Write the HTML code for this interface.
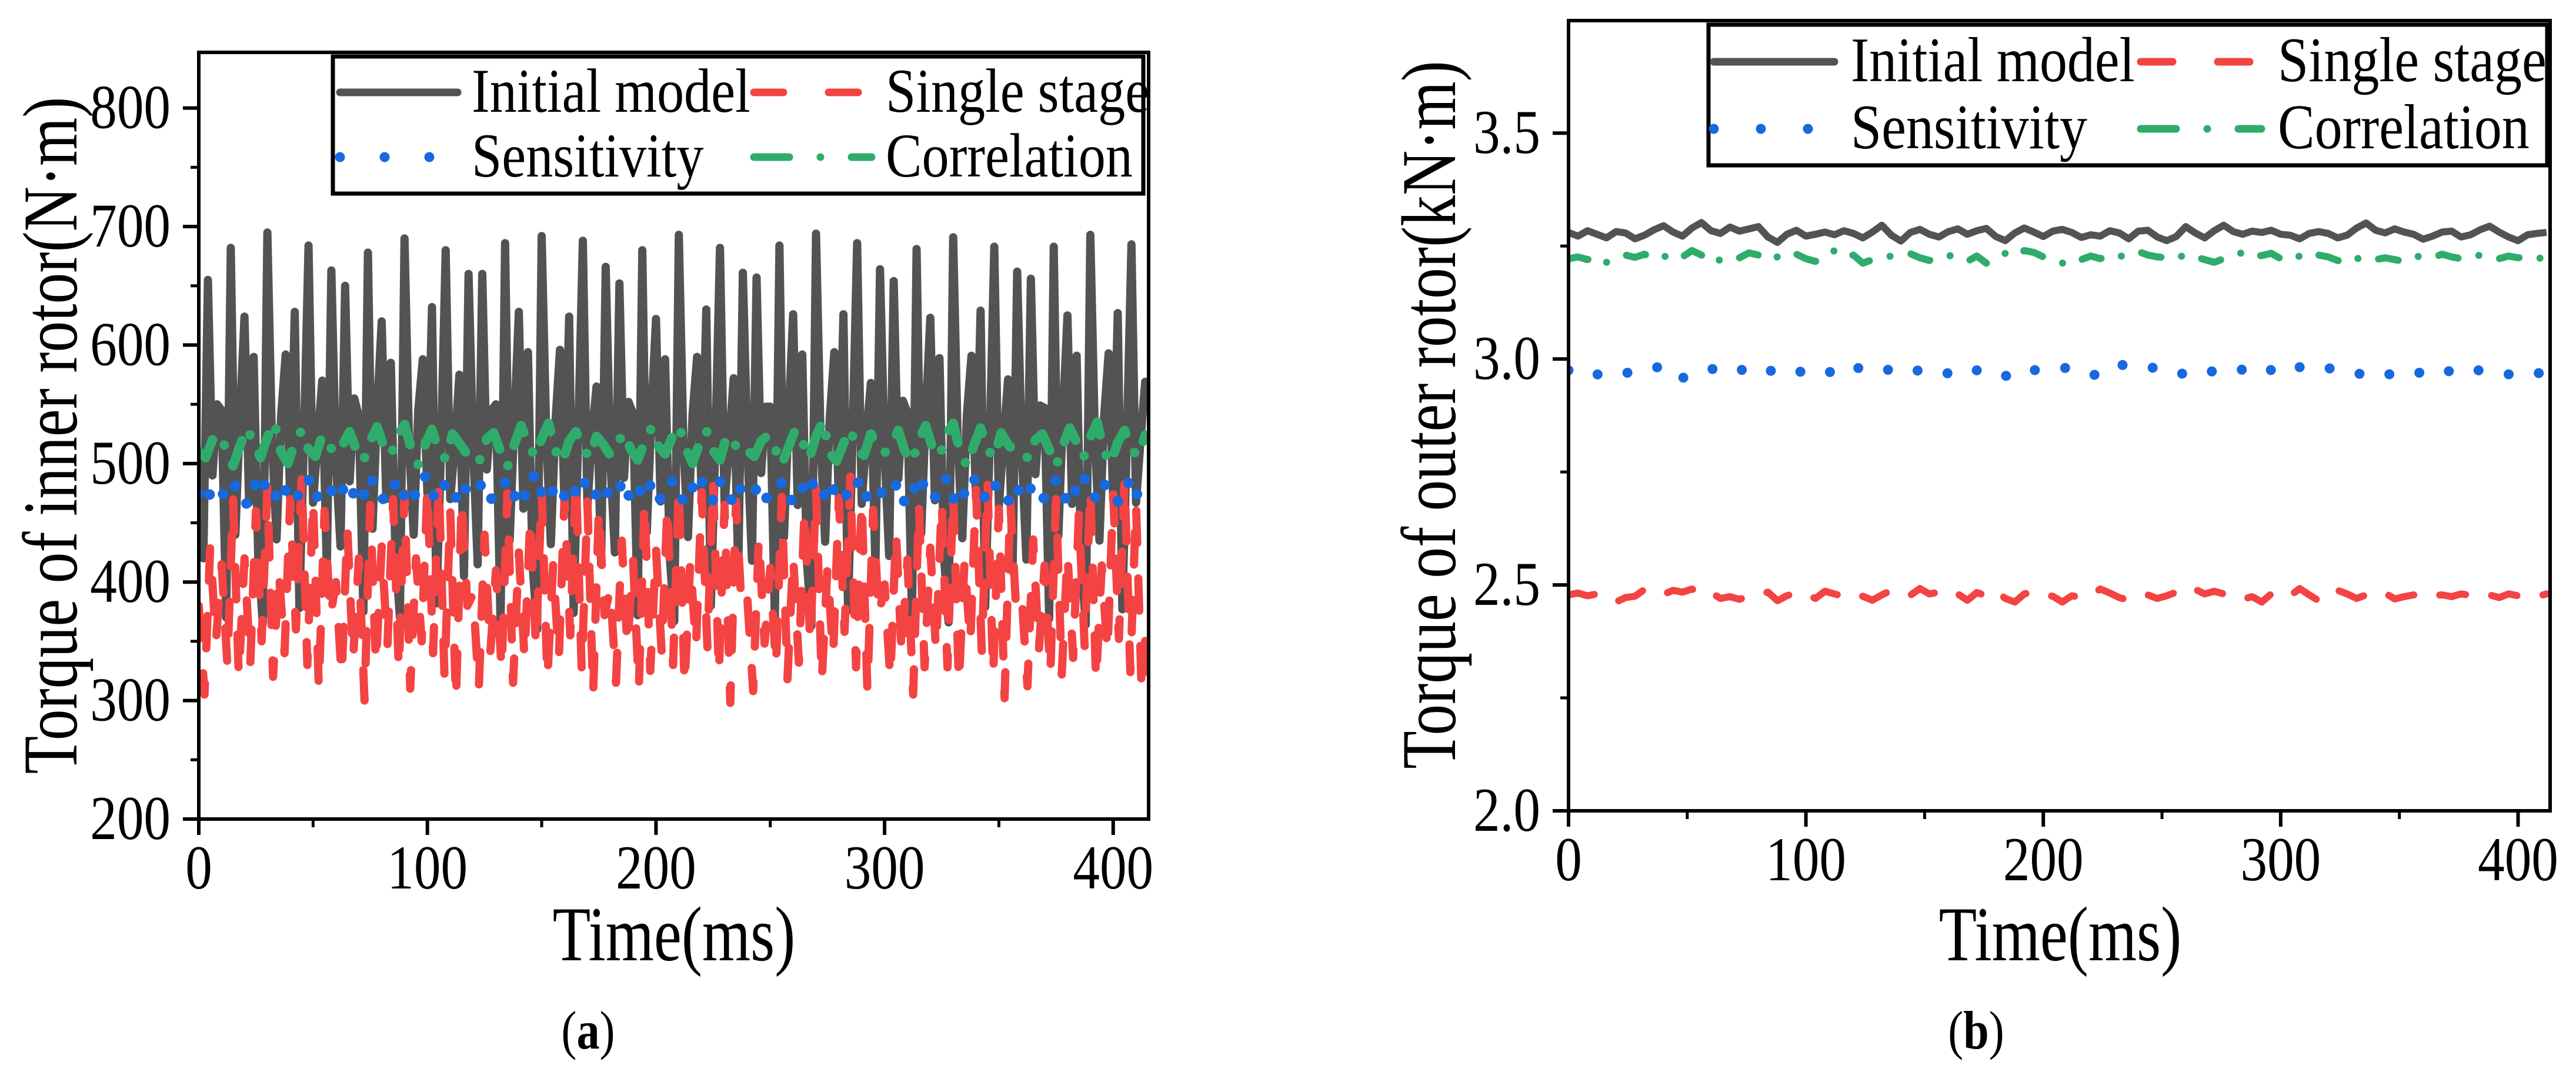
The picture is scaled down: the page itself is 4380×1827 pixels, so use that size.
<!DOCTYPE html>
<html><head><meta charset="utf-8"><style>
html,body{margin:0;padding:0;background:#fff}
svg{display:block}
text{font-family:"Liberation Serif","Times New Roman",serif;fill:#000}
</style></head>
<body>
<svg id="fig" width="4380" height="1827" viewBox="0 0 4380 1827" xmlns="http://www.w3.org/2000/svg"></svg>
<script>
// ---------- chart (a) data ----------
const aInitialDt = 2;
const aInitialV = [
510,420,655,490,550,545,370,682,440,540,624,467,590,420,365,695,520,436,540,592,470,628,378,520,684,467,520,570,410,663,
500,430,650,485,555,540,375,678,445,545,620,470,585,425,370,690,515,440,545,588,475,632,382,515,680,470,515,575,405,660,
515,415,660,495,545,550,365,686,435,535,628,462,594,415,360,692,525,432,535,596,465,624,374,525,688,463,525,565,415,666,
505,425,652,488,552,542,372,680,442,542,622,468,588,422,367,693,518,438,542,590,472,630,380,518,682,465,518,572,408,661,
512,418,657,492,548,548,368,684,438,538,626,465,592,418,363,694,522,434,538,594,468,626,376,522,686,466,522,568,412,664,
508,422,654,487,553,543,371,681,441,541,623,469,589,421,366,691,519,437,541,591,471,629,379,519,683,464,519,571,409,662,
511,419,656,491,549,547,369,683,439,539,625,466,591,419,364,693,521,435,539,593,469,627,377,521,685,467,521,569,560];
const aSingleDt = 2.5;
const aSingleV = [
380,305,430,350,415,330,470,320,420,330,460,350,480,320,410,340,470,360,490,330,470,310,460,370,
400,320,445,335,420,300,465,330,430,345,470,325,475,310,420,350,480,340,485,320,460,300,470,380,
390,310,440,340,410,325,475,315,425,335,455,345,478,318,415,335,472,355,488,325,468,305,462,372,
395,315,435,345,418,310,468,325,428,340,465,330,482,312,418,345,476,345,486,322,465,298,468,376,
385,308,438,348,412,328,472,318,422,332,462,348,479,316,412,338,471,358,489,328,469,308,461,371,
398,318,442,338,419,305,466,328,429,342,468,328,476,314,419,348,478,342,484,321,462,302,469,378,
388,312,436,342,414,322,470,322,424,336,458,346,480,316,414,340,474,352,487,324,466,306,380];
const aSensDt = 3;
const aSensV = [
475,482,468,470,478,485,472,466,480,490,476,470,483,474,468,479,487,471,475,481,
470,478,484,467,473,488,479,469,476,486,472,466,481,489,474,470,484,476,467,480,
477,483,469,471,479,486,473,465,481,491,475,469,482,475,467,478,488,472,474,482,
471,477,485,468,472,487,480,468,477,485,473,467,480,490,475,469,485,477,466,479,
476,481,467,472,477,484,471,467,479,489,477,471,484,473,469,480,486,470,476,480,
472,479,483,466,474,489,478,470,475,487,471,465,482,488,473,471,483,475,468,481,
474,482,470,469,478,486,474,466,480,490,476,470,483,474,468,479,487,471,476];
const aCorrDt = 3;
const aCorrV = [
510,505,520,525,512,498,515,530,518,505,522,535,510,500,518,528,512,506,524,515,
508,516,527,511,502,519,531,514,507,523,533,512,499,516,529,510,504,525,517,509,
512,503,521,526,510,497,516,532,517,506,521,534,511,501,519,527,513,505,523,516,
507,517,526,512,503,518,530,515,508,522,532,513,500,517,528,511,503,524,518,508,
511,506,519,524,513,499,514,529,519,504,523,536,509,502,517,529,511,507,525,514,
509,515,528,510,501,520,532,513,506,524,534,511,498,515,530,512,505,526,516,510,
510,504,520,525,512,498,515,530,518,505,522,535,510,500,518,528,512,506,524];
// ---------- chart (b) data ----------
const bDt = 4;
const bInitialV = [
3.280,3.272,3.284,3.276,3.268,3.282,3.279,3.266,3.274,3.286,3.295,3.281,3.272,3.290,3.302,3.284,3.278,3.292,3.283,3.288,
3.293,3.270,3.258,3.276,3.285,3.272,3.276,3.281,3.275,3.284,3.278,3.268,3.281,3.296,3.274,3.261,3.280,3.287,3.276,3.270,
3.282,3.288,3.276,3.284,3.289,3.271,3.262,3.279,3.290,3.281,3.271,3.283,3.287,3.280,3.269,3.275,3.272,3.284,3.279,3.266,
3.283,3.285,3.270,3.262,3.271,3.293,3.279,3.268,3.284,3.296,3.282,3.276,3.283,3.280,3.285,3.276,3.274,3.266,3.278,3.282,
3.278,3.268,3.274,3.290,3.301,3.285,3.279,3.288,3.281,3.276,3.265,3.272,3.281,3.283,3.270,3.275,3.286,3.294,3.281,3.270,
3.262,3.275,3.278,3.280];
const bSingleV = [
2.478,2.482,2.476,2.480,2.468,2.462,2.472,2.475,2.490,2.482,2.479,2.488,2.484,2.491,2.478,2.483,2.470,2.474,2.468,2.476,
2.478,2.484,2.465,2.476,2.483,2.480,2.470,2.486,2.480,2.474,2.468,2.475,2.466,2.478,2.488,2.482,2.477,2.492,2.480,2.484,
2.474,2.480,2.466,2.483,2.476,2.487,2.470,2.462,2.480,2.485,2.478,2.475,2.462,2.476,2.472,2.476,2.491,2.482,2.472,2.466,
2.473,2.478,2.470,2.476,2.484,2.478,2.490,2.480,2.486,2.480,2.476,2.468,2.474,2.462,2.480,2.484,2.476,2.492,2.478,2.465,
2.482,2.488,2.480,2.470,2.478,2.476,2.482,2.469,2.474,2.478,2.472,2.476,2.478,2.474,2.480,2.477,2.474,2.478,2.472,2.480,
2.476,2.478,2.474,2.480];
const bSensV = [
2.975,2.968,2.960,2.966,2.964,2.962,2.970,2.968,2.974,2.980,2.985,2.978,2.958,2.966,2.974,2.977,2.982,2.986,2.979,2.967,
2.966,2.972,2.978,2.981,2.976,2.966,2.964,2.968,2.974,2.987,2.982,2.978,2.984,2.980,2.974,2.967,2.970,2.976,2.978,2.972,
2.968,2.962,2.970,2.975,2.978,2.971,2.963,2.958,2.966,2.975,2.978,2.980,2.982,2.976,2.970,2.963,2.968,2.974,2.988,2.984,
2.980,2.978,2.983,2.976,2.970,2.966,2.962,2.968,2.974,2.978,2.981,2.976,2.970,2.966,2.976,2.984,2.990,2.982,2.979,2.984,
2.980,2.975,2.972,2.966,2.970,2.974,2.968,2.964,2.970,2.972,2.968,2.975,2.978,2.971,2.966,2.970,2.976,2.972,2.968,2.966,
2.972,2.970,2.968,2.972];
const bCorrV = [
3.222,3.226,3.220,3.228,3.214,3.222,3.230,3.225,3.232,3.222,3.229,3.218,3.226,3.240,3.230,3.212,3.220,3.228,3.224,3.235,
3.230,3.218,3.226,3.236,3.232,3.222,3.216,3.224,3.240,3.226,3.230,3.212,3.220,3.224,3.228,3.230,3.233,3.224,3.218,3.226,
3.230,3.222,3.216,3.228,3.212,3.220,3.234,3.226,3.240,3.236,3.226,3.220,3.212,3.224,3.220,3.228,3.222,3.230,3.226,3.234,
3.238,3.230,3.226,3.224,3.222,3.232,3.226,3.220,3.214,3.222,3.228,3.236,3.226,3.229,3.234,3.222,3.218,3.228,3.236,3.230,
3.226,3.218,3.212,3.222,3.226,3.220,3.224,3.220,3.216,3.226,3.228,3.224,3.232,3.226,3.222,3.225,3.230,3.226,3.222,3.228,
3.224,3.226,3.222,3.226];
const aYTicks = [200,300,400,500,600,700,800];
const aYTickLabels = ["200","300","400","500","600","700","800"];
const bYTicks = [2.0,2.5,3.0,3.5];
const bYTickLabels = ["2.0","2.5","3.0","3.5"];
const xTicks = [0,100,200,300,400];
const xTickLabels = ["0","100","200","300","400"];

const NS = "http://www.w3.org/2000/svg";
const fig = document.getElementById('fig');
function mk(tag, attrs, parent){
  const e = document.createElementNS(NS, tag);
  for (const k in attrs) e.setAttribute(k, attrs[k]);
  (parent||fig).appendChild(e);
  return e;
}
// condensed text: tall font squeezed horizontally, like the reference
function txt(parent, x, y, size, sx, anchor, content, rot){
  const tr = 'translate(' + x + ',' + y + ')' + (rot ? ' rotate(-90)' : '') + ' scale(' + sx + ',1)';
  const t = mk('text', {x:0, y:0, 'font-size':size, 'text-anchor':anchor, transform:tr}, parent);
  t.textContent = content;
  return t;
}
const COL = {gray:'#535353', red:'#f44343', blue:'#1769df', green:'#2fac6b'};

function drawChart(c){
  const g = mk('g', {});
  
  
  const xs = v => c.L + (v - c.xMin) / (c.xMax - c.xMin) * (c.R - c.L);
  const ys = v => c.B - (v - c.yMin) / (c.yMax - c.yMin) * (c.B - c.T);
  const cp = mk('clipPath', {id: c.id + '-clip'}, g);
  mk('rect', {x:c.L, y:c.T, width:c.R-c.L, height:c.B-c.T}, cp);
  const sg = mk('g', {'clip-path':'url(#' + c.id + '-clip)'}, g);
  c.series.forEach(s => {
    let d = '';
    s.v.forEach((v,i) => { d += (i ? 'L' : 'M') + xs(i*s.dt).toFixed(1) + ',' + ys(v).toFixed(1); });
    const p = mk('path', {d:d, fill:'none', stroke:s.color, 'stroke-width':s.sw || c.sw, 'stroke-linejoin':'round',
      'stroke-linecap': s.dash ? 'round' : 'butt'}, sg);
    if (s.dash) p.setAttribute('stroke-dasharray', s.dash);
    
    
  });
  const fr = mk('rect', {x:c.L, y:c.T, width:c.R-c.L, height:c.B-c.T, fill:'none', stroke:'#000', 'stroke-width':6}, g);
  
  
  c.yTicks.forEach((v,i) => {
    const y = ys(v);
    mk('line', {x1:c.L-27, x2:c.L, y1:y, y2:y, stroke:'#000', 'stroke-width':6}, g);
    const t = txt(g, c.L-48, y+34, 106, 0.86, 'end', c.yLabels[i]);
    
    
    const mv = v + c.yMinor;
    if (mv < c.yMax) { const my = ys(mv); mk('line', {x1:c.L-14, x2:c.L, y1:my, y2:my, stroke:'#000', 'stroke-width':5}, g); }
  });
  xTicks.forEach((v,i) => {
    const x = xs(v);
    mk('line', {x1:x, x2:x, y1:c.B, y2:c.B+27, stroke:'#000', 'stroke-width':6}, g);
    const t = txt(g, x, c.B+118, 106, 0.86, 'middle', xTickLabels[i]);
    
    
    const mx = xs(v + 50);
    if (v + 50 < c.xMax) mk('line', {x1:mx, x2:mx, y1:c.B, y2:c.B+14, stroke:'#000', 'stroke-width':5}, g);
  });
  const xt = txt(g, c.xTitleX, 1632, 132, 0.8, 'middle', 'Time(ms)');
  
  
  const yt = txt(g, c.yTitleX, c.yTitleY, 132, 0.8, 'middle', c.yTitle, true);
  
  
  const cap = mk('text', {x:0, y:0, 'font-size':92, 'text-anchor':'middle', transform:'translate(' + c.capX + ',1782) scale(0.85,1)'}, g);
  cap.innerHTML = '(<tspan font-weight="bold">' + c.cap + '</tspan>)';
  
  
  const lg = mk('g', {}, g);
  
  
  const Lb = c.leg;
  mk('rect', {x:Lb.x, y:Lb.y, width:Lb.w, height:Lb.h, fill:'#fff', stroke:'#000', 'stroke-width':7}, lg);
  c.series.forEach((s,i) => {
    const col = i % 2, row = i < 2 ? 0 : 1;
    const ly = row ? Lb.r2 : Lb.r1;
    const x0 = col ? Lb.c2 : Lb.c1;
    const ln = mk('line', {x1:x0, x2:x0+Lb.lw, y1:ly, y2:ly, stroke:s.color, 'stroke-width':s.key==='sensitivity'?17:13,
      'stroke-linecap':'round'}, lg);
    if (s.legDash) ln.setAttribute('stroke-dasharray', s.legDash);
    const t = txt(lg, x0 + Lb.tOff, ly + 33, Lb.fs, 0.87, 'start', s.label);
    
    
  });
}

drawChart({
  name:'chart-a-inner-rotor-torque', id:'ca', L:338, R:1953, T:89, B:1392,
  xMin:0, xMax:415.5, yMin:200, yMax:847, yMinor:50, sw:14,
  yTicks:aYTicks, yLabels:aYTickLabels,
  yTitle:'Torque of inner rotor(N·m)', yTitleX:130, yTitleY:740, xTitleX:1146, capX:1000, cap:'a',
  leg:{x:566, y:96, w:1378, h:233, r1:157, r2:267, c1:578, c2:1282, lw:200, tOff:224, fs:106},
  series:[
    {key:'initial', label:'Initial model', color:COL.gray, v:aInitialV, dt:aInitialDt},
    {key:'single-stage', label:'Single stage', color:COL.red, v:aSingleV, dt:aSingleDt, dash:'55 60', legDash:'50 77'},
    {key:'sensitivity', label:'Sensitivity', color:COL.blue, v:aSensV, dt:aSensDt, dash:'0 36', legDash:'0 76', sw:18},
    {key:'correlation', label:'Correlation', color:COL.green, v:aCorrV, dt:aCorrDt, dash:'48 36 0 36', legDash:'60 53 0 53', sw:16}
  ]
});
drawChart({
  name:'chart-b-outer-rotor-torque', id:'cb', L:2667, R:4336, T:35, B:1378,
  xMin:0, xMax:413.5, yMin:2.0, yMax:3.749, yMinor:0.25, sw:12,
  yTicks:bYTicks, yLabels:bYTickLabels,
  yTitle:'Torque of outer rotor(kN·m)', yTitleX:2474, yTitleY:705, xTitleX:3503, capX:3360, cap:'b',
  leg:{x:2905, y:42, w:1426, h:239, r1:105, r2:219, c1:2914, c2:3640, lw:205, tOff:233, fs:108},
  series:[
    {key:'initial', label:'Initial model', color:COL.gray, v:bInitialV, dt:bDt},
    {key:'single-stage', label:'Single stage', color:COL.red, v:bSingleV, dt:bDt, dash:'45 45', legDash:'54 77'},
    {key:'sensitivity', label:'Sensitivity', color:COL.blue, v:bSensV, dt:bDt, dash:'0 52', legDash:'0 80', sw:17},
    {key:'correlation', label:'Correlation', color:COL.green, v:bCorrV, dt:bDt, dash:'34 36 0 36', legDash:'60 53 0 53'}
  ]
});
</script>
</body></html>
